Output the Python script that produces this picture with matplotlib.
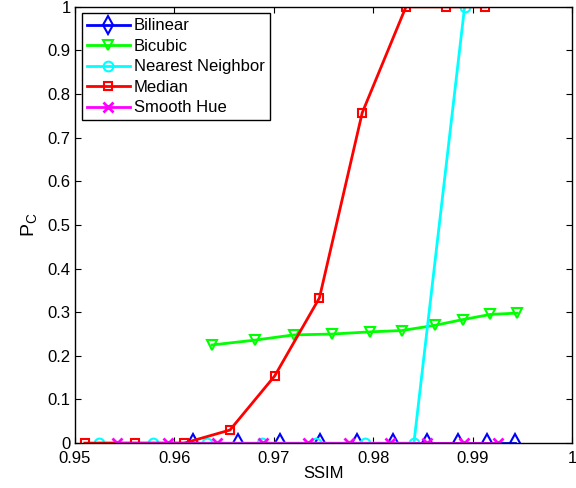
import numpy as np
import matplotlib
matplotlib.use('Agg')
import matplotlib.pyplot as plt

plt.rcParams['font.family'] = ['Liberation Sans', 'DejaVu Sans']
plt.rcParams['mathtext.fontset'] = 'custom'
plt.rcParams['mathtext.rm'] = 'Liberation Sans'

# SSIM / P_C values
bilinear_x = [0.9619, 0.9664, 0.9706, 0.9747, 0.9784, 0.9820, 0.9854, 0.9885, 0.9915, 0.9943]
bilinear_y = [0, 0, 0, 0, 0, 0, 0, 0, 0, 0]

bicubic_x = [0.9638, 0.9681, 0.9720, 0.9759, 0.9797, 0.9829, 0.9862, 0.9890, 0.9918, 0.9945]
bicubic_y = [0.225, 0.236, 0.248, 0.250, 0.255, 0.258, 0.270, 0.283, 0.295, 0.298]

nearest_x = [0.9524, 0.9579, 0.9633, 0.9688, 0.9743, 0.9792, 0.9841, 0.9892]
nearest_y = [0, 0, 0, 0, 0, 0, 0, 1.0]

median_x = [0.9510, 0.9560, 0.9610, 0.9656, 0.9701, 0.9746, 0.9789, 0.9833, 0.9873, 0.9913]
median_y = [0, 0, 0, 0.03, 0.154, 0.333, 0.757, 1.0, 1.0, 1.0]

smooth_x = [0.9542, 0.9594, 0.9643, 0.9689, 0.9734, 0.9776, 0.9817, 0.9854, 0.9891, 0.9926]
smooth_y = [0, 0, 0, 0, 0, 0, 0, 0, 0, 0]

x_ticks = [0.95, 0.96, 0.97, 0.98, 0.99, 1.0]
x_tick_labels = ['0.95', '0.96', '0.97', '0.98', '0.99', '1']
y_ticks = np.round(np.arange(0, 1.01, 0.1), 1)
y_tick_labels = ['0'] + ['%.1f' % v for v in y_ticks[1:-1]] + ['1']

fig = plt.figure(figsize=(5.76, 4.88), dpi=100)
ax = fig.add_axes([0.130, 0.092, 0.863, 0.894])

lw = 2.0
mew = 1.5
ax.plot(bilinear_x, bilinear_y, color='#0000ff', marker='d', markersize=9,
        markerfacecolor='none', markeredgewidth=mew, linewidth=lw, label='Bilinear')
ax.plot(bicubic_x, bicubic_y, color='#00ff00', marker='v', markersize=7,
        markerfacecolor='none', markeredgewidth=mew, linewidth=lw, label='Bicubic')
ax.plot(nearest_x, nearest_y, color='#00ffff', marker='o', markersize=7,
        markerfacecolor='none', markeredgewidth=mew, linewidth=lw, label='Nearest Neighbor')
ax.plot(median_x, median_y, color='#ff0000', marker='s', markersize=6,
        markerfacecolor='none', markeredgewidth=mew, linewidth=lw, label='Median')
ax.plot(smooth_x, smooth_y, color='#ff00ff', marker='x', markersize=7,
        markeredgewidth=2.0, linewidth=lw, label='Smooth Hue')

ax.set_xlim(0.95, 1.0)
ax.set_ylim(0, 1)
ax.set_xticks(x_ticks)
ax.set_xticklabels(x_tick_labels)
ax.set_yticks(y_ticks)
ax.set_yticklabels(y_tick_labels)
ax.tick_params(direction='in', top=True, right=True, labelsize=12, length=4)
ax.tick_params(axis='x', pad=6)
ax.tick_params(axis='y', pad=3)
for sp in ax.spines.values():
    sp.set_linewidth(1.0)

ax.set_xlabel('SSIM', fontsize=12, labelpad=0)
ax.set_ylabel(r'$\mathrm{P_C}$', fontsize=14, labelpad=6)

leg = ax.legend(loc='upper left', fontsize=12, fancybox=False, framealpha=1,
                edgecolor='black', borderpad=0.3, labelspacing=0.33,
                handlelength=2.6, handletextpad=0.25, borderaxespad=0.4)
leg.get_frame().set_linewidth(1.0)

fig.savefig('out.png', dpi=100)
